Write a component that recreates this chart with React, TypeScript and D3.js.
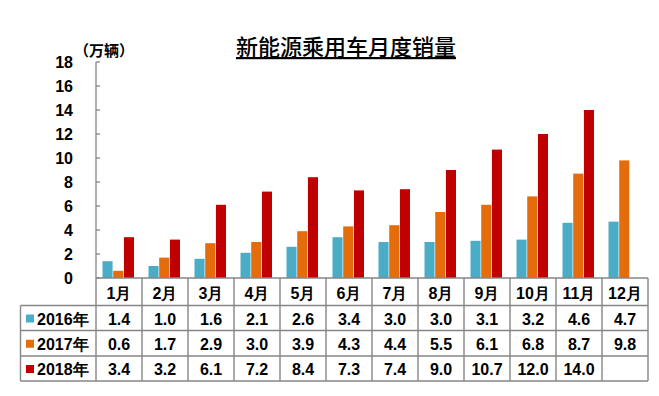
import { useEffect, useRef } from "react";
import * as d3 from "d3";

const months = ["1月", "2月", "3月", "4月", "5月", "6月", "7月", "8月", "9月", "10月", "11月", "12月"];
const seriesNames = ["2016年", "2017年", "2018年"];
const sales2016 = [1.4, 1.0, 1.6, 2.1, 2.6, 3.4, 3.0, 3.0, 3.1, 3.2, 4.6, 4.7];
const sales2017 = [0.6, 1.7, 2.9, 3.0, 3.9, 4.3, 4.4, 5.5, 6.1, 6.8, 8.7, 9.8];
const sales2018: (number | null)[] = [3.4, 3.2, 6.1, 7.2, 8.4, 7.3, 7.4, 9.0, 10.7, 12.0, 14.0, null];
const yTicks = [0, 2, 4, 6, 8, 10, 12, 14, 16, 18];
const colors = ["#4BACC6", "#E46C0A", "#C00000"];

export default function App() {
  const svgRef = useRef<SVGSVGElement>(null);

  useEffect(() => {
    if (!svgRef.current) return;
    const width = 659;
    const height = 396;
    const font = "Arial, 'Liberation Sans', sans-serif";
    const allSeries = [sales2016, sales2017, sales2018];

    const svg = d3.select(svgRef.current);
    svg.selectAll("*").remove();
    svg.attr("width", width).attr("height", height);

    const x = d3.scaleBand<string>().domain(months).range([96, 648]).paddingInner(0);
    const x1 = d3.scaleBand<string>().domain(seriesNames).range([6.5, 38]).paddingInner(0.06);
    const y = d3.scaleLinear().domain([0, 18]).range([278, 62]);

    // Title
    svg
      .append("text")
      .attr("x", 346)
      .attr("y", 55)
      .attr("text-anchor", "middle")
      .attr("font-family", "'Noto Sans CJK SC', sans-serif")
      .attr("font-size", 22)
      .attr("font-weight", 500)
      .attr("text-decoration", "underline")
      .text("新能源乘用车月度销量");

    svg
      .append("text")
      .attr("x", 74)
      .attr("y", 56)
      .attr("font-family", "'Noto Sans CJK SC', sans-serif")
      .attr("font-size", 15)
      .attr("font-weight", 700)
      .text("（万辆）");

    // Y axis
    const axis = svg.append("g").attr("transform", "translate(96,0)");
    axis
      .append("line")
      .attr("x1", 0)
      .attr("x2", 0)
      .attr("y1", y(18))
      .attr("y2", y(0))
      .attr("stroke", "#868686")
      .attr("stroke-width", 1.3);
    yTicks.forEach((t) => {
      axis
        .append("line")
        .attr("x1", 0)
        .attr("x2", 4)
        .attr("y1", y(t))
        .attr("y2", y(t))
        .attr("stroke", "#868686")
        .attr("stroke-width", 1.3);
      axis
        .append("text")
        .attr("x", -23)
        .attr("y", y(t))
        .attr("dy", "0.36em")
        .attr("text-anchor", "end")
        .attr("font-family", font)
        .attr("font-size", 16)
        .attr("font-weight", 700)
        .text(t);
    });

    // Bars
    allSeries.forEach((vals, si) => {
      svg
        .append("g")
        .selectAll("rect")
        .data(vals.map((v, i) => ({ m: months[i], v })).filter((d) => d.v != null))
        .join("rect")
        .attr("x", (d) => (x(d.m) as number) + (x1(seriesNames[si]) as number))
        .attr("y", (d) => y(d.v as number))
        .attr("width", x1.bandwidth())
        .attr("height", (d) => y(0) - y(d.v as number))
        .attr("fill", colors[si]);
    });

    // Data table
    const rowTops = [278, 305.5, 330.5, 356, 381];
    const left = 20.5;
    const grid = svg.append("g").attr("stroke", "#868686").attr("stroke-width", 1.4).attr("fill", "none");
    grid.append("line").attr("x1", 96).attr("x2", 648).attr("y1", rowTops[0]).attr("y2", rowTops[0]);
    for (let r = 1; r < rowTops.length; r++) {
      grid.append("line").attr("x1", left).attr("x2", 648).attr("y1", rowTops[r]).attr("y2", rowTops[r]);
    }
    grid.append("line").attr("x1", left).attr("x2", left).attr("y1", rowTops[1]).attr("y2", rowTops[4]);
    months.forEach((m) => {
      const xs = x(m) as number;
      grid.append("line").attr("x1", xs).attr("x2", xs).attr("y1", rowTops[0]).attr("y2", rowTops[4]);
    });
    grid.append("line").attr("x1", 648).attr("x2", 648).attr("y1", rowTops[0]).attr("y2", rowTops[4]);

    const cellText = (cx: number, cy: number, txt: string) =>
      svg
        .append("text")
        .attr("x", cx)
        .attr("y", cy)
        .attr("dy", "0.36em")
        .attr("text-anchor", "middle")
        .attr("font-family", font)
        .attr("font-size", 16)
        .attr("font-weight", 700)
        .text(txt);

    months.forEach((m) => {
      cellText((x(m) as number) + x.bandwidth() / 2, (rowTops[0] + rowTops[1]) / 2 + 1, m);
    });
    allSeries.forEach((vals, si) => {
      const cy = (rowTops[si + 1] + rowTops[si + 2]) / 2 + 1;
      vals.forEach((v, i) => {
        if (v == null) return;
        cellText((x(months[i]) as number) + x.bandwidth() / 2, cy, v.toFixed(1));
      });
      svg
        .append("rect")
        .attr("x", 26)
        .attr("y", cy - 4.5)
        .attr("width", 8)
        .attr("height", 8)
        .attr("fill", colors[si]);
      svg
        .append("text")
        .attr("x", 37)
        .attr("y", cy)
        .attr("dy", "0.36em")
        .attr("font-family", font)
        .attr("font-size", 16)
        .attr("font-weight", 700)
        .text(seriesNames[si]);
    });
  }, []);

  return <svg ref={svgRef} style={{ position: "absolute", left: 0, top: 0 }}></svg>;
}
